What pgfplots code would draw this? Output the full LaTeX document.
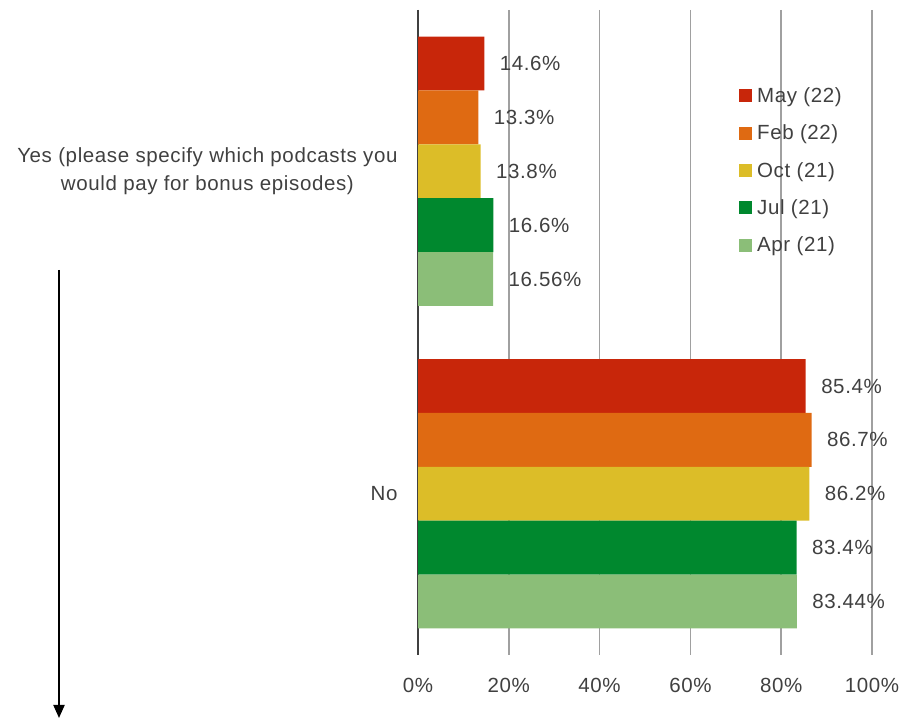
\documentclass[border=0pt]{standalone}
\usepackage{pgfplots}
\pgfplotsset{compat=1.18}
\usepackage{fontspec}
\setmainfont{Liberation Sans}[LetterSpace=3]
\usetikzlibrary{arrows.meta}
\definecolor{cMay}{HTML}{C8260A}
\definecolor{cFeb}{HTML}{DF6A12}
\definecolor{cOct}{HTML}{DCBD28}
\definecolor{cJul}{HTML}{00882E}
\definecolor{cApr}{HTML}{8BBE78}
\definecolor{txt}{HTML}{404040}
\definecolor{grd}{HTML}{A0A0A0}
\newcommand\cf{\fontsize{20.5bp}{28bp}\selectfont}

\begin{document}
\begin{tikzpicture}[x=1bp, y=1bp]
\path[use as bounding box] (0,0) rectangle (903,723);
\draw[line width=2bp, -{Triangle[width=11bp,length=13bp]}] (59,453) -- (59,5);
\begin{axis}[
  at={(418bp,68bp)}, anchor=south west,
  scale only axis, width=454bp, height=645bp,
  xbar, bar width=0.167,
  xmin=0, xmax=100, ymin=-0.5, ymax=1.5, y dir=reverse,
  axis lines*=left,
  x axis line style={draw=none},
  y axis line style={txt, line width=1.5bp},
  major tick length=0pt,
  xtick={0,20,40,60,80,100},
  xticklabels={0\%,20\%,40\%,60\%,80\%,100\%},
  ytick={0,1},
  yticklabels={{Yes (please specify which podcasts you\\would pay for bonus episodes)},No},
  xticklabel style={font=\cf, text=txt, yshift=-20bp},
  yticklabel style={font=\cf, text=txt, align=center, xshift=-17bp},
  xmajorgrids, grid style={grd, line width=1.5bp},
  point meta=x,
  nodes near coords={\pgfmathprintnumber[fixed,precision=2,assume math mode=true]{\pgfplotspointmeta}\%},
  every node near coord/.append style={font=\cf, text=txt, xshift=12bp},
  legend style={at={(0.707,0.883)}, anchor=north west, draw=none, fill=none,
    inner sep=0pt, row sep=17bp, column sep=3bp, font=\cf, text=txt},
  legend cell align=left,
  legend image code/.code={\fill[#1,/tikz/.cd] (0bp,-6.5bp) rectangle (13bp,6.5bp);},
]
\addplot[fill=cMay, draw=none, bar shift=-0.334] coordinates {(14.6,0) (85.4,1)};
\addplot[fill=cFeb, draw=none, bar shift=-0.167] coordinates {(13.3,0) (86.7,1)};
\addplot[fill=cOct, draw=none, bar shift=0] coordinates {(13.8,0) (86.2,1)};
\addplot[fill=cJul, draw=none, bar shift=0.167] coordinates {(16.6,0) (83.4,1)};
\addplot[fill=cApr, draw=none, bar shift=0.334] coordinates {(16.56,0) (83.44,1)};
\legend{May (22),Feb (22),Oct (21),Jul (21),Apr (21)}
\end{axis}
\end{tikzpicture}
\end{document}
